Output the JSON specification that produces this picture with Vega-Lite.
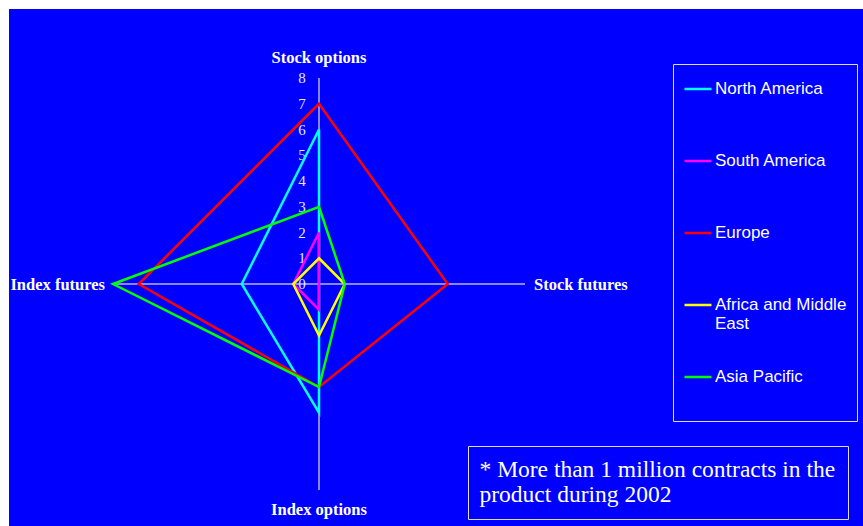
{
  "$schema": "https://vega.github.io/schema/vega-lite/v6.json",
  "width": 854,
  "height": 517,
  "padding": {"left": 9, "top": 9, "right": 0, "bottom": 0},
  "autosize": {"type": "none"},
  "background": "white",
  "view": {"fill": "#0000FF", "stroke": null},
  "datasets": {
    "regions": [
      {"region": "North America", "axis": "Stock options", "order": 0, "value": 6},
      {"region": "North America", "axis": "Stock futures", "order": 1, "value": 0},
      {"region": "North America", "axis": "Index options", "order": 2, "value": 5},
      {"region": "North America", "axis": "Index futures", "order": 3, "value": 3},
      {"region": "South America", "axis": "Stock options", "order": 0, "value": 2},
      {"region": "South America", "axis": "Stock futures", "order": 1, "value": 0},
      {"region": "South America", "axis": "Index options", "order": 2, "value": 1},
      {"region": "South America", "axis": "Index futures", "order": 3, "value": 1},
      {"region": "Europe", "axis": "Stock options", "order": 0, "value": 7},
      {"region": "Europe", "axis": "Stock futures", "order": 1, "value": 5},
      {"region": "Europe", "axis": "Index options", "order": 2, "value": 4},
      {"region": "Europe", "axis": "Index futures", "order": 3, "value": 7},
      {"region": "Africa and Middle East", "axis": "Stock options", "order": 0, "value": 1},
      {"region": "Africa and Middle East", "axis": "Stock futures", "order": 1, "value": 1},
      {"region": "Africa and Middle East", "axis": "Index options", "order": 2, "value": 2},
      {"region": "Africa and Middle East", "axis": "Index futures", "order": 3, "value": 1},
      {"region": "Asia Pacific", "axis": "Stock options", "order": 0, "value": 3},
      {"region": "Asia Pacific", "axis": "Stock futures", "order": 1, "value": 1},
      {"region": "Asia Pacific", "axis": "Index options", "order": 2, "value": 4},
      {"region": "Asia Pacific", "axis": "Index futures", "order": 3, "value": 8}
    ],
    "axes": [
      {"axis": "Stock options", "order": 0, "max": 8},
      {"axis": "Stock futures", "order": 1, "max": 8},
      {"axis": "Index options", "order": 2, "max": 8},
      {"axis": "Index futures", "order": 3, "max": 8}
    ],
    "ticks": [
      {"tick": 0}, {"tick": 1}, {"tick": 2}, {"tick": 3}, {"tick": 4},
      {"tick": 5}, {"tick": 6}, {"tick": 7}, {"tick": 8}
    ],
    "note": [
      {"note": "* More than 1 million contracts in the product during 2002"}
    ]
  },
  "layer": [
    {
      "data": {"name": "axes"},
      "transform": [
        {"calculate": "datum.axis === 'Stock futures' ? datum.max : datum.axis === 'Index futures' ? -datum.max : 0", "as": "ex"},
        {"calculate": "datum.axis === 'Stock options' ? datum.max : datum.axis === 'Index options' ? -datum.max : 0", "as": "ey"},
        {"calculate": "0", "as": "zero"}
      ],
      "mark": {"type": "rule", "color": "#B4B4FF", "strokeWidth": 1.5},
      "encoding": {
        "x": {"field": "zero", "type": "quantitative", "scale": {"domain": [-12.039, 21.126], "nice": false, "zero": false}, "axis": null},
        "y": {"field": "zero", "type": "quantitative", "scale": {"domain": [-9.398, 10.68], "nice": false, "zero": false}, "axis": null},
        "x2": {"field": "ex"},
        "y2": {"field": "ey"}
      }
    },
    {
      "data": {"name": "ticks"},
      "transform": [{"calculate": "0", "as": "zero"}],
      "mark": {"type": "text", "font": "Liberation Serif", "fontSize": 15, "color": "#E6E6FF", "align": "center", "baseline": "middle", "dx": -17},
      "encoding": {
        "x": {"field": "zero", "type": "quantitative", "axis": null},
        "y": {"field": "tick", "type": "quantitative", "axis": null},
        "text": {"field": "tick", "type": "quantitative"}
      }
    },
    {
      "data": {"name": "regions"},
      "transform": [
        {"calculate": "datum.axis === 'Stock futures' ? datum.value : datum.axis === 'Index futures' ? -datum.value : 0", "as": "px"},
        {"calculate": "datum.axis === 'Stock options' ? datum.value : datum.axis === 'Index options' ? -datum.value : 0", "as": "py"}
      ],
      "mark": {"type": "line", "interpolate": "linear-closed", "strokeWidth": 2.5},
      "encoding": {
        "x": {"field": "px", "type": "quantitative", "axis": null},
        "y": {"field": "py", "type": "quantitative", "axis": null},
        "order": {"field": "order", "type": "quantitative"},
        "color": {
          "field": "region",
          "type": "nominal",
          "scale": {
            "domain": ["North America", "South America", "Europe", "Africa and Middle East", "Asia Pacific"],
            "range": ["#00FFFF", "#FF00FF", "#FF0000", "#FFFF00", "#00FF00"]
          },
          "legend": {
            "orient": "none",
            "legendX": 664,
            "legendY": 55,
            "title": " ",
            "titleOrient": "bottom",
            "titleFontSize": 17,
            "titlePadding": 10,
            "symbolType": "stroke",
            "symbolSize": 729,
            "symbolStrokeWidth": 2.5,
            "labelColor": "white",
            "labelFont": "Liberation Sans",
            "labelFontSize": 17,
            "labelLimit": 300,
            "labelOffset": 2,
            "strokeColor": "#DDDDDD",
            "padding": 10,
            "gridAlign": "all",
            "rowPadding": 30,
            "labelExpr": "datum.label === 'Africa and Middle East' ? ['Africa and Middle', 'East'] : datum.label"
          }
        }
      }
    },
    {
      "data": {"name": "axes"},
      "transform": [{"filter": "datum.axis === 'Stock options'"}, {"calculate": "0", "as": "zero"}],
      "mark": {"type": "text", "font": "Liberation Serif", "fontWeight": "bold", "fontSize": 16.5, "color": "white", "align": "center", "baseline": "middle", "dy": -20},
      "encoding": {
        "x": {"field": "zero", "type": "quantitative", "axis": null},
        "y": {"field": "max", "type": "quantitative", "axis": null},
        "text": {"field": "axis", "type": "nominal"}
      }
    },
    {
      "data": {"name": "axes"},
      "transform": [{"filter": "datum.axis === 'Index options'"}, {"calculate": "-datum.max", "as": "pos"}, {"calculate": "0", "as": "zero"}],
      "mark": {"type": "text", "font": "Liberation Serif", "fontWeight": "bold", "fontSize": 16.5, "color": "white", "align": "center", "baseline": "middle", "dy": 20},
      "encoding": {
        "x": {"field": "zero", "type": "quantitative", "axis": null},
        "y": {"field": "pos", "type": "quantitative", "axis": null},
        "text": {"field": "axis", "type": "nominal"}
      }
    },
    {
      "data": {"name": "axes"},
      "transform": [{"filter": "datum.axis === 'Stock futures'"}, {"calculate": "0", "as": "zero"}],
      "mark": {"type": "text", "font": "Liberation Serif", "fontWeight": "bold", "fontSize": 16.5, "color": "white", "align": "left", "baseline": "middle", "dx": 9, "dy": 1},
      "encoding": {
        "x": {"field": "max", "type": "quantitative", "axis": null},
        "y": {"field": "zero", "type": "quantitative", "axis": null},
        "text": {"field": "axis", "type": "nominal"}
      }
    },
    {
      "data": {"name": "axes"},
      "transform": [{"filter": "datum.axis === 'Index futures'"}, {"calculate": "-datum.max", "as": "pos"}, {"calculate": "0", "as": "zero"}],
      "mark": {"type": "text", "font": "Liberation Serif", "fontWeight": "bold", "fontSize": 16.5, "color": "white", "align": "right", "baseline": "middle", "dx": -8, "dy": 1},
      "encoding": {
        "x": {"field": "pos", "type": "quantitative", "axis": null},
        "y": {"field": "zero", "type": "quantitative", "axis": null},
        "text": {"field": "axis", "type": "nominal"}
      }
    },
    {
      "data": {"name": "note"},
      "transform": [{"calculate": "0", "as": "zero"}],
      "mark": {"type": "point", "opacity": 0},
      "encoding": {
        "x": {"field": "zero", "type": "quantitative", "axis": null},
        "y": {"field": "zero", "type": "quantitative", "axis": null},
        "shape": {
          "field": "note",
          "type": "nominal",
          "legend": {
            "orient": "none",
            "legendX": 459,
            "legendY": 437,
            "title": null,
            "symbolSize": 0,
            "symbolOpacity": 0,
            "symbolStrokeWidth": 0,
            "labelOffset": -24,
            "labelFont": "Liberation Serif",
            "labelFontSize": 23.5,
            "labelColor": "white",
            "labelLimit": 600,
            "strokeColor": "#DDDDDD",
            "padding": 12,
            "labelExpr": "['* More than 1 million contracts in the', 'product during 2002']"
          }
        }
      }
    }
  ]
}
